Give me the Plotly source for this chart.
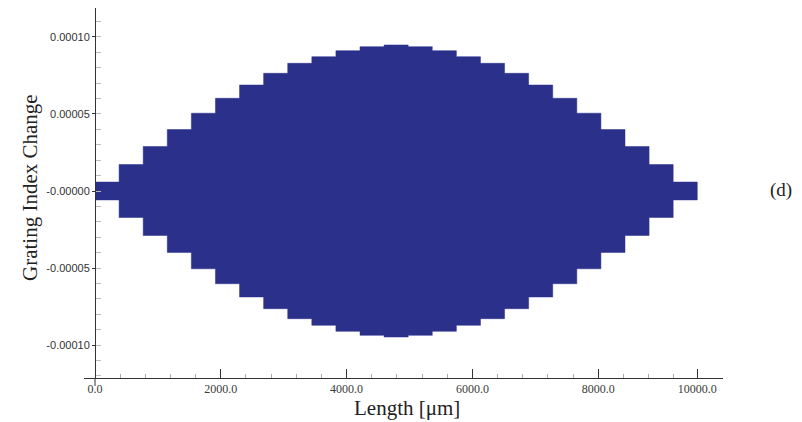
import plotly.graph_objects as go

# ---- data ----
SEG_LEN = 383.0  # length of one grating section (µm)
# index-change amplitude of each of the 25 sections
AMPLITUDE = [5.8e-6, 1.72e-5, 2.89e-5, 3.99e-5, 5.05e-5, 6.02e-5, 6.88e-5,
             7.64e-5, 8.29e-5, 8.72e-5, 9.11e-5, 9.37e-5, 9.48e-5,
             9.37e-5, 9.11e-5, 8.72e-5, 8.29e-5, 7.64e-5, 6.88e-5, 6.02e-5,
             5.05e-5, 3.99e-5, 2.89e-5, 1.72e-5, 5.8e-6]

X_TICK_VALS = [0, 2000, 4000, 6000, 8000, 9575]
X_TICK_TEXT = ["0.0", "2000.0", "4000.0", "6000.0", "8000.0", "10000.0"]
X_MINOR_VALS = [400, 800, 1200, 1600, 2400, 2800, 3200, 3600, 4400, 4800,
                5200, 5600, 6400, 6800, 7200, 7600, 8400, 8800, 9200]
Y_TICK_VALS = [1e-4, 5e-5, 0, -5e-5, -1e-4]
Y_TICK_TEXT = ["0.00010", "0.00005", "-0.00000", "-0.00005", "-0.00010"]

# ---- build outline of the stepped profile ----
edges = [i * SEG_LEN for i in range(len(AMPLITUDE) + 1)]
xs, ys = [], []
for i, v in enumerate(AMPLITUDE):
    xs += [edges[i], edges[i + 1]]
    ys += [v, v]
for i in reversed(range(len(AMPLITUDE))):
    xs += [edges[i + 1], edges[i]]
    ys += [-AMPLITUDE[i], -AMPLITUDE[i]]

FILL = "#2b308b"
fig = go.Figure()
fig.add_trace(go.Scatter(x=xs, y=ys, mode="lines", fill="toself",
                         fillcolor=FILL, line=dict(color=FILL, width=0.5),
                         hoverinfo="skip", showlegend=False))

L, R, T, B = 84, 79, 8, 44
W, H = 802, 422
pw = W - L - R
ph = H - T - B

fig.update_layout(
    width=W, height=H,
    margin=dict(l=L, r=R, t=T, b=B),
    paper_bgcolor="white", plot_bgcolor="white",
    showlegend=False,
    xaxis=dict(
        range=[-175, 9984], showgrid=False, zeroline=False,
        showline=True, linecolor="#333", linewidth=1,
        tickmode="array", tickvals=X_TICK_VALS, ticktext=X_TICK_TEXT,
        ticks="inside", ticklen=9, tickcolor="#333", tickwidth=1,
        tickfont=dict(family="Liberation Serif", size=12, color="#3a3a3a"),
        minor=dict(tickmode="array", tickvals=X_MINOR_VALS, ticks="inside",
                   ticklen=4, tickcolor="#aaa", tickwidth=1),
    ),
    yaxis=dict(
        range=[-1.214e-4, 1.188e-4], showgrid=False, zeroline=False,
        anchor="free", position=11 / pw,
        showline=True, linecolor="#333", linewidth=1,
        tickmode="array", tickvals=Y_TICK_VALS, ticktext=Y_TICK_TEXT,
        ticks="outside", ticklen=3, tickcolor="#333", tickwidth=1,
        tickfont=dict(family="Liberation Sans", size=11, color="#333"),
        minor=dict(dtick=1e-5, tick0=0, ticks="inside", ticklen=5,
                   tickcolor="#bbb", tickwidth=1),
    ),
    shapes=[
        dict(type="line", xref="x", yref="paper", x0=0, x1=0,
             y0=-8 / ph, y1=0, line=dict(color="#333", width=1)),
    ],
    annotations=[
        dict(text="Grating Index Change", xref="paper", yref="paper",
             x=(30 - L) / pw, y=(H - B - 188) / ph, textangle=-90,
             showarrow=False, xanchor="center", yanchor="middle",
             font=dict(family="Liberation Serif", size=21, color="#222")),
        dict(text="Length [μm]", xref="paper", yref="paper",
             x=(407 - L) / pw, y=-(408 - (H - B)) / ph,
             showarrow=False, xanchor="center", yanchor="middle",
             font=dict(family="Liberation Serif", size=21, color="#222")),
        dict(text="(d)", xref="paper", yref="paper",
             x=(781 - L) / pw, y=(H - B - 190) / ph,
             showarrow=False, xanchor="center", yanchor="middle",
             font=dict(family="Liberation Serif", size=19, color="#222")),
    ],
)

fig.write_html("out.html")
